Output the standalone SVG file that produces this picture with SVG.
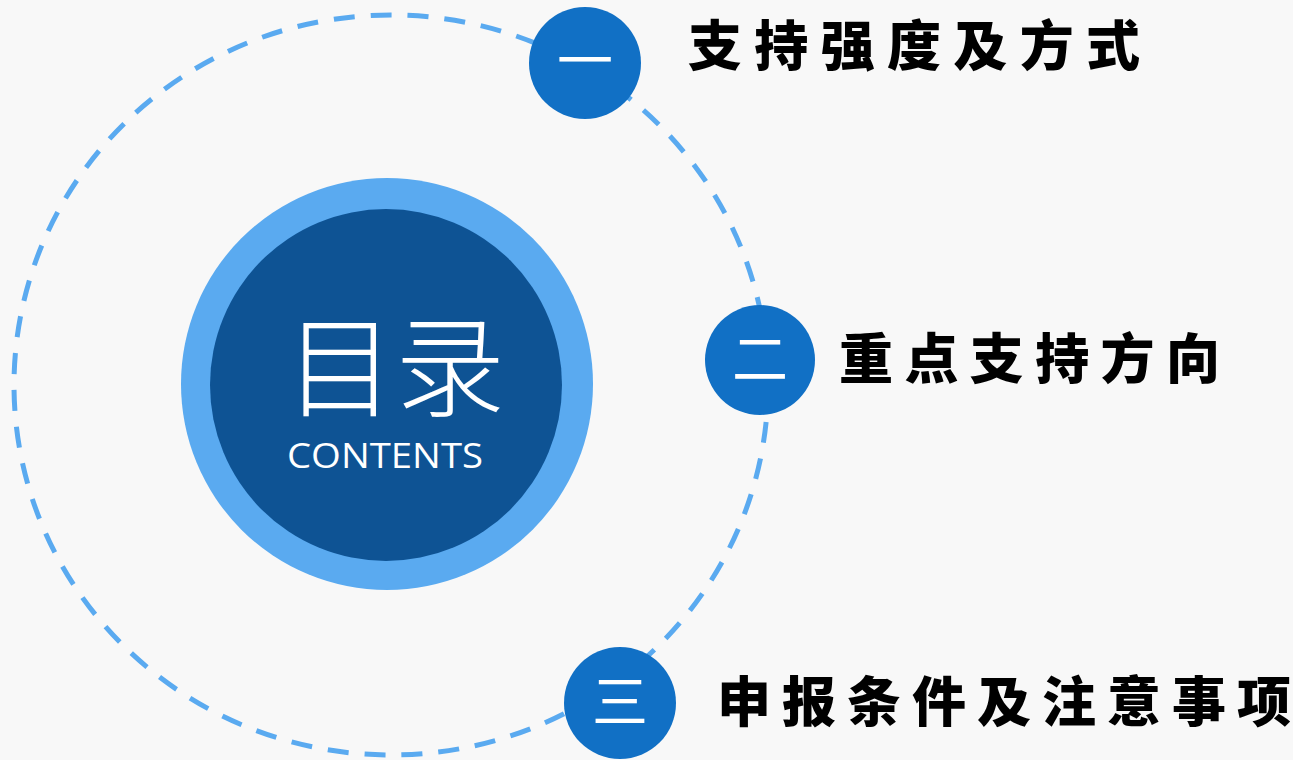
<svg xmlns="http://www.w3.org/2000/svg" width="1293" height="760" viewBox="0 0 1293 760">
<style>
.num{font-family:"Noto Sans CJK SC","Noto Sans",sans-serif;font-size:56px;fill:#ffffff;text-anchor:middle}
.label{font-family:"Noto Sans CJK SC","Noto Sans",sans-serif;font-size:54px;font-weight:900;fill:#000000}
.badge{fill:#1170C5}
</style>
<rect x="0" y="0" width="1293" height="760" fill="#F8F8F8"/>
<g id="connectors">
<ellipse cx="391" cy="385" rx="377" ry="370" fill="none" stroke="#5AAAF0" stroke-width="5" stroke-dasharray="21 16"/>
</g>
<g id="center">
<circle cx="387" cy="384" r="206" fill="#5AAAF0"/>
<circle cx="386" cy="385" r="176" fill="#0E5394"/>
<text x="395" y="408" font-family="Noto Sans CJK SC, sans-serif" font-weight="300" font-size="110" fill="#ffffff" text-anchor="middle">目录</text>
<text x="385" y="468" font-family="Open Sans, Noto Sans, sans-serif" font-size="35" fill="#ffffff" text-anchor="middle" textLength="196" lengthAdjust="spacingAndGlyphs">CONTENTS</text>
</g>
<g id="item1">
<circle class="badge" cx="585" cy="63" r="56"/>
<text class="num" x="585" y="81">一</text>
<text class="label" x="688" y="66" textLength="452" lengthAdjust="spacing">支持强度及方式</text>
</g>
<g id="item2">
<circle class="badge" cx="760" cy="360" r="55"/>
<text class="num" x="760" y="379">二</text>
<text class="label" x="839" y="379" textLength="381" lengthAdjust="spacing">重点支持方向</text>
</g>
<g id="item3">
<circle class="badge" cx="620" cy="703" r="56"/>
<text class="num" x="620" y="722">三</text>
<text class="label" x="717" y="722" textLength="574" lengthAdjust="spacing">申报条件及注意事项</text>
</g>
</svg>
